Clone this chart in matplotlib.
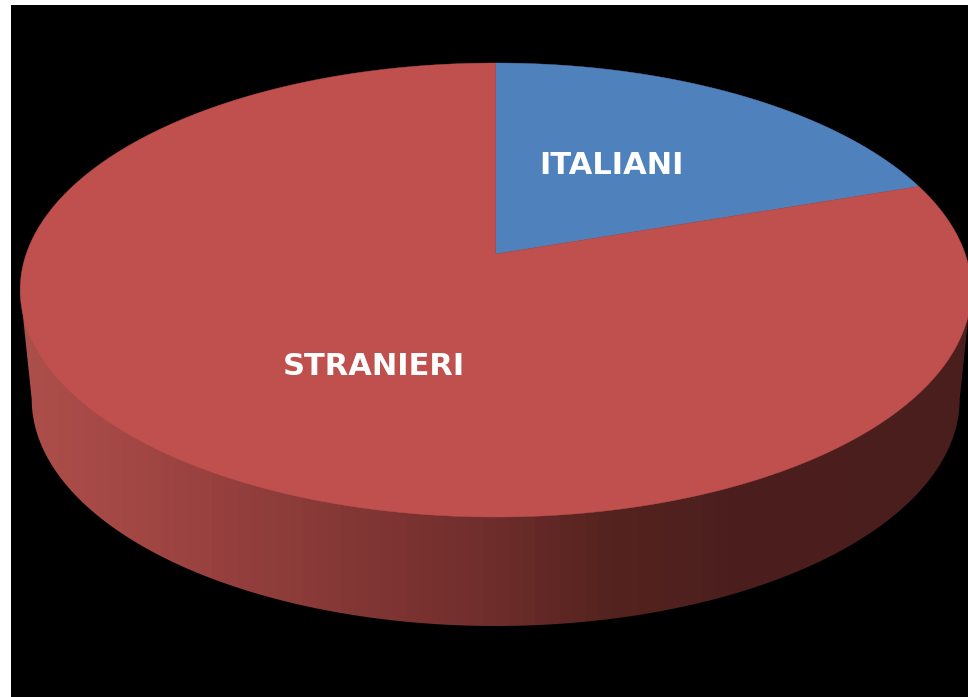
import numpy as np
import matplotlib
matplotlib.use("Agg")
import matplotlib.pyplot as plt
from matplotlib.colors import to_rgb
from matplotlib.patches import Polygon, Rectangle

# Shares of the two groups, drawn clockwise from twelve o'clock
categories = ["ITALIANI", "STRANIERI"]
shares = [19.8, 80.2]
slice_colors = ["#4F81BD", "#C0504D"]

# Shading of the pie's side wall, left to right
wall_stops = [0.0, 0.1, 0.3, 0.5, 0.62, 0.75, 1.0]
wall_colors = ["#AC4F4B", "#A44845", "#893A38", "#6E2D2B", "#55231F", "#4C1F1E", "#4A1E1D"]
WALL_BANDS = 72

CX = 495.7
FAR, HUB, NEAR = 63.0, 254.0, 517.0   # top surface: back rim, centre point, front rim
HALF_WIDTH = 475.5
WALL_HALF_WIDTH = 464.0
WALL_BOTTOM = 626.0


def tilt_parameters():
    k = -(NEAR - HUB - (HUB - FAR)) / ((NEAR - HUB) + (HUB - FAR))
    g = (NEAR - HUB) * (1 + k)
    mid = (NEAR + FAR) / 2
    y_at_mid = (mid - HUB) / (g - (mid - HUB) * k)
    f = HALF_WIDTH * (1 + k * y_at_mid) / np.sqrt(1 - y_at_mid ** 2)
    return k, g, f


K, G, F = tilt_parameters()


def disc_to_page(x, y):
    """Perspective projection of the unit disc onto the page."""
    x, y = np.asarray(x, float), np.asarray(y, float)
    w = 1 + K * y
    return CX + F * x / w, HUB + G * y / w


def slice_outline(start, stop):
    angles = np.radians(np.linspace(start, stop, 300))
    px, py = disc_to_page(np.sin(angles), -np.cos(angles))
    hx, hy = disc_to_page(0.0, 0.0)
    return np.column_stack([np.r_[hx, px], np.r_[hy, py]])


fig = plt.figure(figsize=(9.68, 6.97), dpi=100, facecolor="white")
ax = fig.add_axes([0, 0, 1, 1])
ax.set_xlim(0, 968)
ax.set_ylim(697, 0)
ax.axis("off")

ax.add_patch(Rectangle((11, 5), 957, 692, facecolor="black", edgecolor="none", zorder=0))

# Side wall: a banded horizontal gradient clipped to the pie's lower silhouette
half_height = (NEAR - FAR) / 2
mid_y = (NEAR + FAR) / 2
wall_mid_y = WALL_BOTTOM - half_height
params = np.linspace(0, np.pi, 400)
wall_x = np.r_[CX + HALF_WIDTH, CX + WALL_HALF_WIDTH * np.cos(params), CX - HALF_WIDTH]
wall_y = np.r_[mid_y, wall_mid_y + half_height * np.sin(params), mid_y]
wall_shape = Polygon(np.column_stack([wall_x, wall_y]), closed=True, facecolor="none",
                     edgecolor="none", transform=ax.transData)
ax.add_patch(wall_shape)

channels = np.array([to_rgb(c) for c in wall_colors])
band_pos = (np.arange(WALL_BANDS) + 0.5) / WALL_BANDS
band_rgb = np.column_stack([np.interp(band_pos, wall_stops, channels[:, c]) for c in range(3)])
wall_image = ax.imshow(band_rgb[np.newaxis, :, :], aspect="auto", interpolation="nearest",
                       extent=(CX - WALL_HALF_WIDTH, CX + WALL_HALF_WIDTH, WALL_BOTTOM, mid_y),
                       zorder=1)
wall_image.set_clip_path(wall_shape)
# The two outermost slivers of the wall sit beyond the gradient's extent
for outer, tone in ((CX - HALF_WIDTH, band_rgb[0]), (CX + WALL_HALF_WIDTH, band_rgb[-1])):
    sliver = Rectangle((outer, mid_y), HALF_WIDTH - WALL_HALF_WIDTH, WALL_BOTTOM - mid_y,
                       facecolor=tone, edgecolor="none", zorder=1)
    ax.add_patch(sliver)
    sliver.set_clip_path(wall_shape)
ax.set_xlim(0, 968)
ax.set_ylim(697, 0)

# Top surface
edges = np.r_[0, np.cumsum(shares)] / np.sum(shares) * 360
for start, stop, color in zip(edges[:-1], edges[1:], slice_colors):
    ax.add_patch(Polygon(slice_outline(start, stop), closed=True, facecolor=color,
                         edgecolor=color, linewidth=0.3, zorder=2))

# Slice names
label_spots = [(611.5, 173.5), (373.5, 375.0)]
for name, (lx, ly) in zip(categories, label_spots):
    ax.text(lx, ly, name, color="white", fontsize=22, fontweight="bold",
            family="DejaVu Sans", ha="center", va="baseline", zorder=3)

fig.savefig("out.png", dpi=100, facecolor="white")
